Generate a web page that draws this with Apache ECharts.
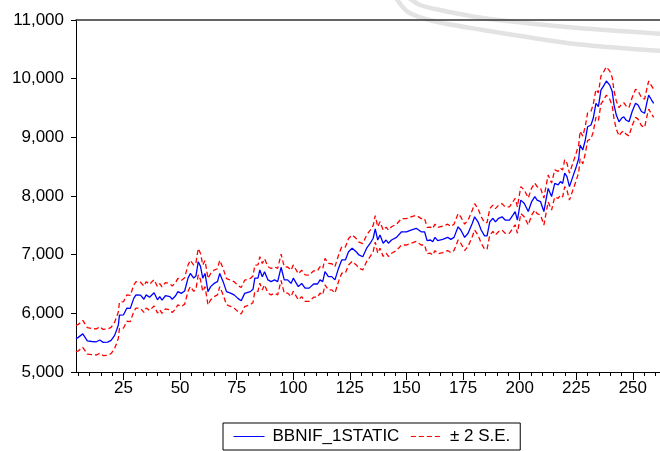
<!DOCTYPE html>
<html>
<head>
<meta charset="utf-8">
<script src="https://cdn.jsdelivr.net/npm/echarts@6/dist/echarts.min.js"></script>
<style>html,body{margin:0;padding:0;background:#fff}#c{width:660px;height:451px}</style>
</head>
<body>
<div id="c"></div>
<script>
// observation index
const obs = [4,5,7,9,11,13,14.5,16,18,19.5,21,22,22.7,23.2,25,26.5,28,29.5,30.5,32.5,34,35,36.5,38.5,40,41,42,43.5,45.5,46.5,48,49,50.5,52,53.5,54.5,56,57,58,59,60,61,62.3,63.5,65,66.5,67.5,69,70.5,72.5,74,75.5,77,78.5,81,82.2,83,84.4,85.2,86.3,87.3,88.8,90.2,91.7,93.1,94.6,96,97.5,99,100,102.2,103.7,105.2,107,109,110.7,111.8,113,114,115.5,117,118.4,120,121.4,123,124.4,126,127.8,129,130.7,132.4,134,135.3,136.2,137.3,138.3,139.7,141,142,143.4,145.6,147.8,150,152,154.3,156.5,158,159.1,160.6,161.6,162.6,163.8,166,168.2,169.6,171,172.8,174,175.7,177.2,179.1,180.1,181.6,183,184.5,185.6,186.8,188.2,189.3,190.7,192.2,193.6,195.5,197,198,199,200.5,202,203.8,205.3,206.7,207.7,209.2,210.7,211.5,212.6,214.1,215.5,217,218,219,219.9,220.9,222,223.5,225,226.1,226.7,227.9,229,230,231.5,232.5,233.7,234.8,235.9,237.3,238.3,239.8,240.9,241.7,242.7,243.9,245,246,247,248.3,249.7,251.2,252.3,253.8,255.2,256.3,257,258.2,259.2];
// BBNIF_1STATIC forecast
const forecast = [5570,5590,5650,5530,5520,5515,5545,5505,5510,5540,5620,5720,5800,5970,5975,6090,6085,6255,6315,6310,6240,6315,6275,6350,6230,6285,6225,6300,6285,6240,6300,6370,6340,6380,6600,6680,6600,6640,6880,6800,6600,6680,6370,6455,6510,6540,6680,6540,6370,6340,6310,6255,6215,6340,6370,6410,6600,6600,6740,6625,6710,6570,6540,6570,6540,6785,6570,6570,6510,6600,6455,6510,6430,6430,6500,6500,6570,6540,6710,6625,6625,6570,6770,6910,6910,7050,7110,7050,6995,6965,7110,7195,7280,7440,7250,7335,7195,7250,7195,7250,7295,7390,7390,7420,7450,7390,7390,7240,7250,7220,7295,7240,7260,7295,7260,7295,7475,7420,7295,7365,7535,7645,7560,7420,7320,7320,7560,7620,7560,7620,7645,7590,7590,7675,7735,7590,7930,7875,7735,7905,7990,7930,7905,7735,7905,8130,7990,8215,8190,8245,8215,8390,8330,8160,8330,8500,8640,8870,8785,8955,9180,9210,9325,9580,9525,9805,9890,9960,9890,9780,9550,9380,9265,9325,9350,9295,9265,9440,9580,9550,9440,9410,9610,9720,9640,9580];
// upper band (+2 S.E.)
const upper = [5795,5810,5880,5755,5740,5735,5770,5725,5735,5760,5845,5940,6025,6190,6200,6315,6305,6480,6540,6530,6465,6540,6495,6575,6455,6505,6450,6525,6505,6465,6525,6595,6560,6605,6825,6905,6820,6865,7105,7020,6825,6900,6595,6680,6735,6760,6905,6765,6590,6565,6535,6475,6440,6565,6595,6635,6820,6825,6965,6850,6930,6795,6765,6790,6765,7010,6795,6790,6735,6825,6675,6735,6655,6650,6725,6725,6795,6760,6935,6850,6845,6795,6995,7135,7130,7275,7335,7275,7215,7190,7335,7420,7500,7665,7475,7560,7420,7470,7420,7475,7520,7615,7615,7645,7670,7615,7615,7465,7470,7445,7520,7465,7485,7520,7480,7520,7700,7645,7520,7590,7760,7870,7785,7645,7545,7545,7785,7845,7785,7845,7870,7815,7815,7900,7960,7815,8160,8105,7965,8135,8220,8160,8135,7965,8135,8360,8220,8445,8420,8475,8445,8620,8560,8390,8560,8735,8875,9105,9020,9190,9415,9445,9560,9815,9760,10045,10130,10200,10130,10020,9790,9620,9505,9565,9590,9535,9505,9680,9820,9790,9680,9650,9850,9960,9880,9820];
// lower band (-2 S.E.)
const lower = [5345,5360,5420,5305,5295,5290,5320,5280,5285,5315,5395,5495,5575,5745,5750,5865,5860,6030,6090,6085,6015,6090,6050,6125,6005,6060,6000,6075,6060,6015,6075,6145,6115,6155,6375,6455,6375,6415,6655,6575,6375,6455,6145,6230,6285,6315,6455,6315,6145,6115,6085,6030,5990,6115,6145,6185,6375,6375,6515,6400,6485,6345,6315,6345,6315,6560,6345,6345,6285,6375,6230,6285,6205,6205,6275,6275,6345,6315,6485,6400,6400,6345,6545,6685,6685,6825,6885,6825,6770,6740,6885,6970,7055,7215,7025,7110,6970,7025,6970,7025,7070,7165,7165,7195,7225,7165,7165,7015,7025,6995,7070,7015,7035,7070,7035,7070,7250,7195,7070,7140,7310,7420,7335,7195,7095,7095,7335,7395,7335,7395,7420,7365,7365,7450,7510,7365,7700,7645,7505,7675,7760,7700,7675,7505,7675,7900,7760,7985,7960,8015,7985,8160,8100,7930,8100,8265,8405,8635,8550,8720,8945,8975,9090,9345,9290,9565,9650,9720,9650,9540,9310,9140,9025,9085,9110,9055,9025,9200,9340,9310,9200,9170,9370,9480,9400,9340];
const yTicks = [5000,6000,7000,8000,9000,10000,11000];
const xTickLabels = [25,50,75,100,125,150,175,200,225,250];
const xMinorStep = 5;
const seriesNames = ['BBNIF_1STATIC','± 2 S.E.'];
const xMin = 4, xMax = 262;

const xCats = [];
for (let v = xMin; v <= xMax; v++) xCats.push(String(v));
const pair = (ys) => obs.map((x, i) => [x, ys[i]]);
const fmt = v => String(v).replace(/\B(?=(\d{3})+(?!\d))/g, ',');
const FONT = 'Liberation Sans, Arial, sans-serif';

const chart = echarts.init(document.getElementById('c'), null, {renderer: 'canvas'});
chart.setOption({
  animation: false,
  backgroundColor: '#fff',
  grid: {left: 76, top: 20, width: 590.6, height: 352, containLabel: false},
  graphic: [
    {type: 'polyline', z: -10, silent: true,
     shape: {points: [[409,-2],[420,5],[440,10],[483,18],[567,27],[620,31],[665,34]], smooth: 0.3},
     style: {stroke: '#e3e3e3', lineWidth: 4.5, fill: null}},
    {type: 'polyline', z: -10, silent: true,
     shape: {points: [[396,-2],[408,12],[433,21],[483,30],[567,43],[620,48],[665,51]], smooth: 0.3},
     style: {stroke: '#e3e3e3', lineWidth: 4.5, fill: null}}
  ],
  legend: {
    left: 223, top: 423,
    data: seriesNames,
    orient: 'horizontal',
    borderColor: '#000', borderWidth: 1,
    padding: [5, 10, 5, 10],
    itemWidth: 31, itemHeight: 14, itemGap: 11,
    lineStyle: {width: 1},
    itemStyle: {opacity: 0},
    textStyle: {fontFamily: FONT, fontSize: 17, color: '#000', padding: [0,0,0,3], lineHeight: 17}
  },
  xAxis: [
    {type: 'value', min: xMin, max: xMax, position: 'bottom',
     axisLine: {show: true, lineStyle: {color: '#000', width: 1}},
     axisTick: {show: false}, axisLabel: {show: false}, splitLine: {show: false}},
    {type: 'category', data: xCats, boundaryGap: false, position: 'bottom',
     axisLine: {show: false},
     axisTick: {show: true, interval: (i, v) => Number(v) % xMinorStep === 0, length: 4, lineStyle: {color: '#000'}},
     axisLabel: {show: true, interval: (i, v) => xTickLabels.indexOf(Number(v)) >= 0, margin: 8,
       fontFamily: FONT, fontSize: 17, color: '#000'},
     splitLine: {show: false}},
    {type: 'category', data: xCats, boundaryGap: false, position: 'bottom',
     axisLine: {show: false},
     axisTick: {show: true, interval: (i, v) => xTickLabels.indexOf(Number(v)) >= 0, length: 8, lineStyle: {color: '#000'}},
     axisLabel: {show: false}, splitLine: {show: false}},
    {type: 'value', min: xMin, max: xMax, position: 'top',
     axisLine: {show: true, lineStyle: {color: '#333', width: 1.5}},
     axisTick: {show: false}, axisLabel: {show: false}, splitLine: {show: false}}
  ],
  yAxis: {
    type: 'value', min: yTicks[0], max: yTicks[yTicks.length - 1], interval: 1000,
    axisLine: {show: true, lineStyle: {color: '#000', width: 1}},
    axisTick: {show: true, length: 5, lineStyle: {color: '#000'}},
    axisLabel: {formatter: fmt, margin: 12, fontFamily: FONT, fontSize: 17, color: '#000'},
    splitLine: {show: false}
  },
  series: [
    {name: seriesNames[0], type: 'line', xAxisIndex: 0, data: pair(forecast), symbol: 'none',
     lineStyle: {color: '#0000ff', width: 1.3}, itemStyle: {color: '#0000ff'}, z: 3},
    {name: seriesNames[1], type: 'line', xAxisIndex: 0, data: pair(upper), symbol: 'none',
     lineStyle: {color: '#ff0000', width: 1.3, type: [5, 3]}, itemStyle: {color: '#ff0000'}, z: 2},
    {name: seriesNames[1], type: 'line', xAxisIndex: 0, data: pair(lower), symbol: 'none',
     lineStyle: {color: '#ff0000', width: 1.3, type: [5, 3]}, itemStyle: {color: '#ff0000'}, z: 2}
  ]
});
</script>
</body>
</html>
